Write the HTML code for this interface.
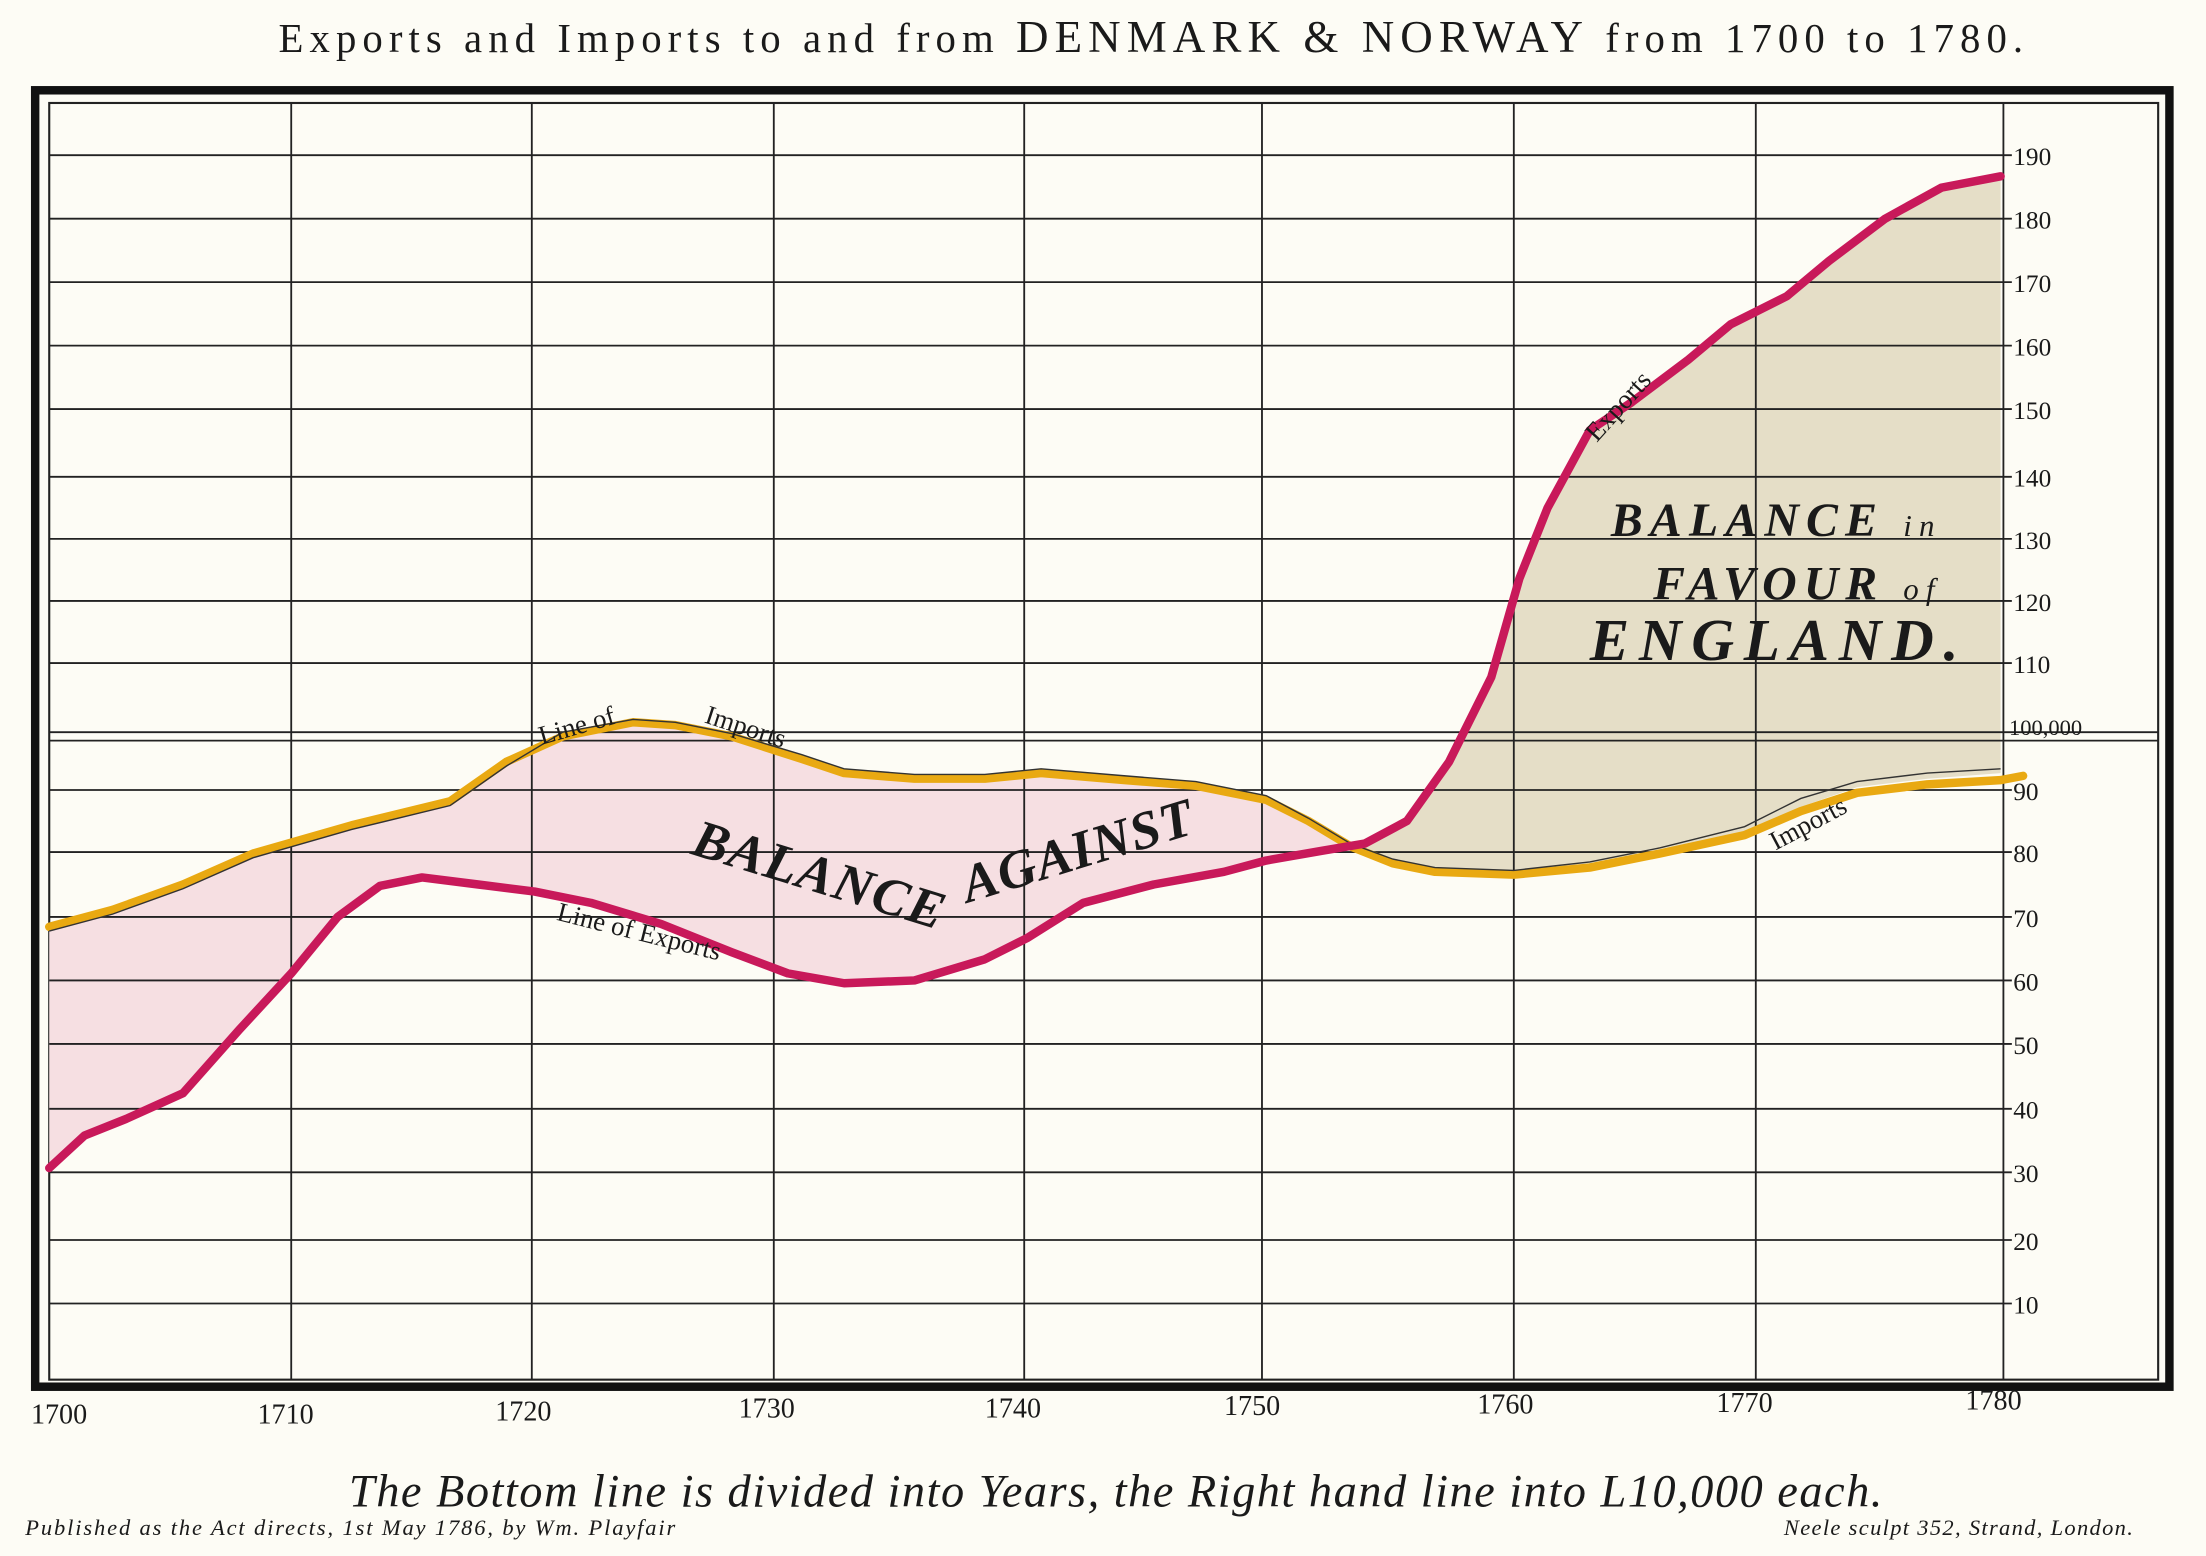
<!DOCTYPE html>
<html><head><meta charset="utf-8"><style>
html,body{margin:0;padding:0;background:#fdfcf5;}
svg{display:block;}
text{font-family:"Liberation Serif",serif;fill:#1a1a1a;}
</style></head><body>
<svg width="2206" height="1556" viewBox="0 0 1568 1103" preserveAspectRatio="none" xmlns="http://www.w3.org/2000/svg">
<rect width="1568" height="1103" fill="#fdfcf5"/>
<text x="198" y="37" font-size="29" textLength="1240" lengthAdjust="spacing">Exports  and Imports to and from <tspan font-size="32">DENMARK &amp; NORWAY</tspan> from 1700 to 1780.</text>
<!-- frames -->
<rect x="25" y="64" width="1517" height="919" fill="none" stroke="#111" stroke-width="6"/>
<rect x="35" y="73" width="1499" height="905" fill="none" stroke="#222" stroke-width="1.5"/>
<!-- fills -->
<polygon fill="#f6dfe2" points="35,657 80,645 130,627 180,605 250,585 320,568 360,540 400,522 450,512 480,514 520,522 570,538 600,548 650,552 700,552 740,548 800,553 850,557 900,567 930,582 965,601 940,603 900,610 870,618 820,627 770,640 730,665 700,680 650,695 600,697 560,690 520,675 470,655 420,640 380,632 340,627 300,622 270,628 240,650 207,690 170,730 130,775 90,793 60,805 35,828"/>
<polygon fill="#e5dec7" points="965,601 1000,582 1030,540 1060,480 1080,410 1100,360 1130,305 1160,285 1200,255 1230,230 1270,210 1300,185 1340,155 1380,133 1422,125 1422,548 1370,552 1320,558 1280,572 1240,590 1180,605 1130,615 1076,620 1020,618 990,612"/>
<!-- grid -->
<g stroke="#222" stroke-width="1.3" fill="none">
<path d="M207,73V978M378,73V978M550,73V978M728,73V978M897,73V978M1076,73V978M1248,73V978"/>
<path d="M1424,73V978"/>
<path d="M35,110H1430M35,155H1430M35,200H1430M35,245H1430M35,290H1430M35,338H1430M35,382H1430M35,426H1430M35,470H1430M35,560H1430M35,604H1430M35,650H1430M35,695H1430M35,740H1430M35,786H1430M35,831H1430M35,879H1430M35,924H1430"/>
<path d="M35,519H1534M35,525H1534"/>
</g>
<!-- right labels -->
<g font-size="18">
<text x="1431" y="117">190</text><text x="1431" y="162">180</text><text x="1431" y="207">170</text><text x="1431" y="252">160</text><text x="1431" y="297">150</text><text x="1431" y="345">140</text><text x="1431" y="389">130</text><text x="1431" y="433">120</text><text x="1431" y="477">110</text><text x="1428" y="521" font-size="16">100,000</text><text x="1431" y="567">90</text><text x="1431" y="611">80</text><text x="1431" y="657">70</text><text x="1431" y="702">60</text><text x="1431" y="747">50</text><text x="1431" y="793">40</text><text x="1431" y="838">30</text><text x="1431" y="886">20</text><text x="1431" y="931">10</text>
</g>
<!-- series -->
<polyline fill="none" stroke="#e9a912" stroke-width="6" stroke-linejoin="round" stroke-linecap="round" points="35,657 80,645 130,627 180,605 250,585 320,568 360,540 400,522 450,512 480,514 520,522 570,538 600,548 650,552 700,552 740,548 800,553 850,557 900,567 930,582 960,600 990,612 1020,618 1076,620 1130,615 1180,605 1240,592 1280,575 1320,562 1370,556 1422,553 1438,550"/>
<polyline fill="none" stroke="#333" stroke-width="1" points="35,660 80,648 130,630 180,608 250,588 320,571 360,543 400,519 450,510 480,512 520,520 570,535 600,545 650,549 700,549 740,545 800,550 850,554 900,564 930,580 960,598 990,609 1020,615 1076,617 1130,611 1180,601 1240,586 1280,566 1320,554 1370,548 1422,545"/>
<polyline fill="none" stroke="#c8195a" stroke-width="6" stroke-linejoin="round" stroke-linecap="round" points="35,828 60,805 90,793 130,775 170,730 207,690 240,650 270,628 300,622 340,627 380,632 420,640 470,655 520,675 560,690 600,697 650,695 700,680 730,665 770,640 820,627 870,618 900,610 940,603 970,598 1000,582 1030,540 1060,480 1080,410 1100,360 1130,305 1160,285 1200,255 1230,230 1270,210 1300,185 1340,155 1380,133 1422,125"/>
<!-- labels -->
<text x="385" y="528" font-size="19" transform="rotate(-16 385 528)">Line  of</text>
<text x="500" y="512" font-size="19" transform="rotate(18 500 512)">Imports</text>
<text x="395" y="652" font-size="19" transform="rotate(14 395 652)">Line of Exports</text>
<text x="490" y="605" font-size="38" font-style="italic" font-weight="bold" transform="rotate(17 490 605)" textLength="185" lengthAdjust="spacing">BALANCE</text>
<text x="688" y="640" font-size="38" font-style="italic" font-weight="bold" transform="rotate(-17 688 640)" textLength="170" lengthAdjust="spacing">AGAINST</text>
<text x="1135" y="314" font-size="19" transform="rotate(-48 1135 314)">Exports</text>
<text x="1262" y="603" font-size="19" transform="rotate(-28 1262 603)">Imports</text>
<text x="1145" y="380" font-size="34" font-style="italic" font-weight="bold" textLength="230" lengthAdjust="spacing">BALANCE <tspan font-size="22" font-weight="normal">in</tspan></text>
<text x="1175" y="425" font-size="34" font-style="italic" font-weight="bold" textLength="200" lengthAdjust="spacing">FAVOUR <tspan font-size="22" font-weight="normal">of</tspan></text>
<text x="1130" y="468" font-size="42" font-style="italic" font-weight="bold" textLength="262" lengthAdjust="spacing">ENGLAND.</text>
<!-- bottom labels -->
<g font-size="20">
<text x="22" y="1009">1700</text><text x="183" y="1009">1710</text><text x="352" y="1007">1720</text><text x="525" y="1005">1730</text><text x="700" y="1005">1740</text><text x="870" y="1003">1750</text><text x="1050" y="1002">1760</text><text x="1220" y="1001">1770</text><text x="1397" y="999">1780</text>
</g>
<text x="248" y="1068" font-size="33" font-style="italic" textLength="1090" lengthAdjust="spacing">The Bottom line is divided into Years, the Right hand line into L10,000 each.</text>
<text x="18" y="1088" font-size="16" font-style="italic" textLength="462" lengthAdjust="spacing">Published as the Act directs, 1st May 1786, by Wm. Playfair</text>
<text x="1268" y="1088" font-size="16" font-style="italic" textLength="248" lengthAdjust="spacing">Neele sculpt 352, Strand, London.</text>
</svg>
</body></html>
